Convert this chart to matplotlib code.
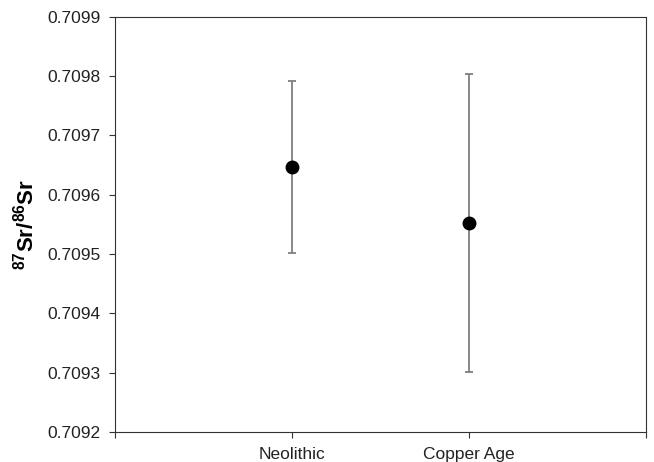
import matplotlib
matplotlib.use('Agg')
import matplotlib.pyplot as plt

# data
periods = ['Neolithic', 'Copper Age']
mean_sr = [0.709647, 0.709552]
err_sr = [0.000145, 0.000251]
yticks = [0.7092, 0.7093, 0.7094, 0.7095, 0.7096, 0.7097, 0.7098, 0.7099]

plt.rcParams['font.family'] = ['Liberation Sans', 'DejaVu Sans']
plt.rcParams['mathtext.fontset'] = 'custom'
plt.rcParams['mathtext.rm'] = 'Liberation Sans'
plt.rcParams['mathtext.bf'] = 'Liberation Sans:bold'

fig = plt.figure(figsize=(6.54, 4.62), dpi=100)
ax = fig.add_axes([0.1758, 0.0649, 0.8115, 0.899])

xpos = list(range(1, len(periods) + 1))
ax.errorbar(xpos, mean_sr, yerr=err_sr, fmt='none', ecolor='#7f7f7f',
            elinewidth=1.3, capsize=3, capthick=1.3, zorder=2)
ax.plot(xpos, mean_sr, 'o', color='black', markersize=9, zorder=3)

ax.set_xlim(0, len(periods) + 1)
ax.set_ylim(yticks[0], yticks[-1])
ax.set_xticks([0] + xpos + [len(periods) + 1])
ax.set_xticklabels([''] + periods + [''])
ax.set_yticks(yticks)
ax.set_yticklabels(['%.4f' % v for v in yticks])

ax.tick_params(axis='both', direction='out', length=4, width=0.8,
               color='#333333', labelsize=12.5, labelcolor='#222222')
ax.tick_params(axis='y', pad=6.5)
ax.tick_params(axis='x', pad=7)
for s in ax.spines.values():
    s.set_color('#333333')
    s.set_linewidth(0.8)

ax.set_ylabel(r'$\mathbf{^{87}Sr/^{86}Sr}$', fontsize=16, labelpad=6)

fig.savefig('out.png', dpi=100)
